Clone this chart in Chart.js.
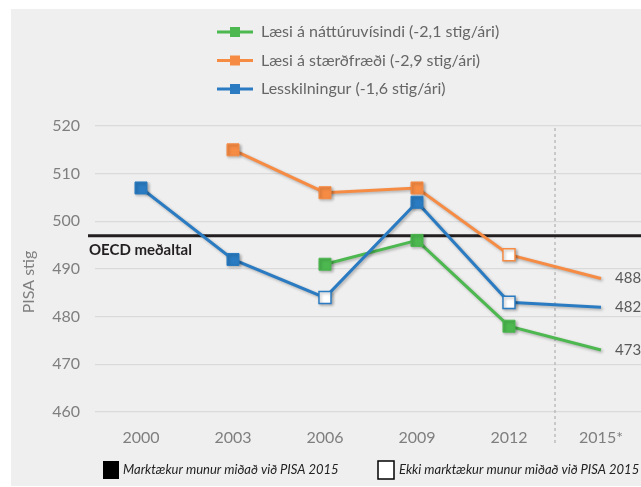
<!DOCTYPE html>
<html lang="is">
<head>
<meta charset="utf-8">
<title>PISA stig</title>
<script src="https://cdn.jsdelivr.net/npm/chart.js@4/dist/chart.umd.min.js"></script>
<style>
    html, body { margin: 0; padding: 0; background: #ffffff; overflow: hidden; }
    #bakgrunnur { position: absolute; left: 11px; top: 9px; width: 630px; height: 477px; background: #efefef; }
    #pisaChart { position: absolute; left: 0; top: 0; }
</style>
</head>
<body>
<div id="bakgrunnur"></div>
<canvas id="pisaChart" width="660" height="487"></canvas>
<script>
// Gögn lesin af myndinni
const artal = ['2000', '2003', '2006', '2009', '2012', '2015*'];
const natturuvisindi = [null, null, 491, 496, 478, 473];
const staerdfraedi = [null, 515, 506, 507, 493, 488];
const lesskilningur = [507, 492, 484, 504, 483, 482];

// true = marktækur munur (fyllt), false = ekki marktækur (hvítt), null = enginn punktur
const natturuvisindiMarktaekt = [null, null, true, true, true, null];
const staerdfraediMarktaekt = [null, true, true, true, false, null];
const lesskilningurMarktaekt = [true, true, false, true, false, null];

const heiti = [
    'Læsi á náttúruvísindi (-2,1 stig/ári)',
    'Læsi á stærðfræði (-2,9 stig/ári)',
    'Lesskilningur (-1,6 stig/ári)'
];
const litir = ['#4cb84f', '#f68b44', '#2a7bc1'];

const oecdMedaltal = 497;
const oecdTexti = 'OECD meðaltal';
const yTikk = [460, 470, 480, 490, 500, 510, 520];
const askiTitill = 'PISA stig';
const skyringar = ['Marktækur munur miðað við PISA 2015', 'Ekki marktækur munur miðað við PISA 2015'];

const FONT = "Lato, 'Open Sans', sans-serif";

function merki(litur, marktaekt) {
    return {
        pointStyle: 'rect',
        pointRadius: marktaekt.map(m => m === null ? 0 : 8.5),
        pointHoverRadius: marktaekt.map(m => m === null ? 0 : 8.5),
        pointBackgroundColor: marktaekt.map(m => m === false ? '#ffffff' : litur),
        pointBorderColor: litur,
        pointBorderWidth: marktaekt.map(m => m === false ? 1.5 : 1)
    };
}

function rod(i, gogn, marktaekt, order) {
    return Object.assign({
        label: heiti[i],
        data: gogn,
        borderColor: litir[i],
        backgroundColor: litir[i],
        borderWidth: 3,
        tension: 0,
        order: order
    }, merki(litir[i], marktaekt));
}

// Skuggi á línum
const skuggi = {
    id: 'skuggi',
    beforeDatasetDraw(chart) {
        const ctx = chart.ctx;
        ctx.save();
        ctx.shadowColor = 'rgba(0,0,0,0.28)';
        ctx.shadowBlur = 3;
        ctx.shadowOffsetX = 1.5;
        ctx.shadowOffsetY = 1.5;
    },
    afterDatasetDraw(chart) {
        chart.ctx.restore();
    }
};

// OECD lína og brotin lína milli 2012 og 2015
const bakgrunnsLinur = {
    id: 'bakgrunnsLinur',
    beforeDatasetsDraw(chart) {
        const ctx = chart.ctx;
        const x = chart.scales.x;
        const y = chart.scales.y;
        const area = chart.chartArea;

        const xBrot = (x.getPixelForValue(4) + x.getPixelForValue(5)) / 2;
        ctx.save();
        ctx.strokeStyle = '#bdbdbd';
        ctx.lineWidth = 1.5;
        ctx.setLineDash([3, 3]);
        ctx.beginPath();
        ctx.moveTo(xBrot, area.top + 2);
        ctx.lineTo(xBrot, area.bottom + 33);
        ctx.stroke();
        ctx.restore();

        const yOecd = y.getPixelForValue(oecdMedaltal);
        ctx.save();
        ctx.strokeStyle = '#231f20';
        ctx.lineWidth = 3;
        ctx.beginPath();
        ctx.moveTo(88, yOecd);
        ctx.lineTo(chart.width, yOecd);
        ctx.stroke();
        ctx.fillStyle = '#231f20';
        ctx.font = 'bold 15px ' + FONT;
        ctx.textAlign = 'left';
        ctx.textBaseline = 'alphabetic';
        ctx.fillText(oecdTexti, 89, yOecd + 19);
        ctx.restore();
    }
};

// Gildi við síðasta punkt, ásheiti og skýringar efst og neðst
const merkingar = {
    id: 'merkingar',
    afterDraw(chart) {
        const ctx = chart.ctx;
        ctx.save();

        // gildi við 2015
        ctx.font = '15px ' + FONT;
        ctx.fillStyle = '#595959';
        ctx.textAlign = 'left';
        ctx.textBaseline = 'middle';
        chart.data.datasets.forEach((ds, i) => {
            const meta = chart.getDatasetMeta(i);
            const last = meta.data[meta.data.length - 1];
            ctx.fillText(ds.data[ds.data.length - 1], last.x + 14, last.y);
        });

        // heiti y-ás (aðeins neðar en miðja ássins)
        ctx.save();
        ctx.translate(29, (chart.chartArea.top + chart.chartArea.bottom) / 2 + 13);
        ctx.rotate(-Math.PI / 2);
        ctx.textAlign = 'center';
        ctx.fillStyle = '#7f7f7f';
        ctx.font = '16px ' + FONT;
        ctx.fillText(askiTitill, 0, 0);
        ctx.restore();

        // skýringar efst
        ctx.textAlign = 'left';
        heiti.forEach((texti, i) => {
            const yy = 32 + i * 28.5;
            ctx.strokeStyle = litir[i];
            ctx.lineWidth = 3;
            ctx.beginPath();
            ctx.moveTo(217, yy);
            ctx.lineTo(253, yy);
            ctx.stroke();
            ctx.fillStyle = litir[i];
            ctx.fillRect(230, yy - 5, 10, 10);
            ctx.fillStyle = '#666666';
            ctx.font = '16px ' + FONT;
            ctx.fillText(texti, 261, yy);
        });

        // skýringar neðst
        ctx.fillStyle = '#000000';
        ctx.fillRect(103, 461, 16, 18);
        ctx.fillStyle = '#ffffff';
        ctx.fillRect(378, 461, 16, 18);
        ctx.strokeStyle = '#000000';
        ctx.lineWidth = 1.5;
        ctx.strokeRect(378, 461, 16, 18);
        ctx.fillStyle = '#222222';
        ctx.font = 'italic 13px ' + FONT;
        ctx.fillText(skyringar[0], 123, 470);
        ctx.fillText(skyringar[1], 399, 470);

        ctx.restore();
    }
};

new Chart(document.getElementById('pisaChart'), {
    type: 'line',
    data: {
        labels: artal,
        datasets: [
            rod(0, natturuvisindi, natturuvisindiMarktaekt, 2),
            rod(1, staerdfraedi, staerdfraediMarktaekt, 1),
            rod(2, lesskilningur, lesskilningurMarktaekt, 0)
        ]
    },
    options: {
        responsive: false,
        animation: false,
        layout: { padding: { top: 126, right: 13, bottom: 0, left: 0 } },
        plugins: {
            legend: { display: false },
            tooltip: { enabled: false }
        },
        scales: {
            x: {
                offset: true,
                grid: { display: false },
                border: { display: false },
                ticks: {
                    color: '#7f7f7f',
                    font: { family: FONT, size: 16 },
                    padding: 8,
                    maxRotation: 0
                },
                afterFit(scale) { scale.height = 75; }
            },
            y: {
                min: 460,
                max: 520,
                afterBuildTicks(scale) { scale.ticks = yTikk.map(v => ({ value: v })); },
                grid: { color: '#dadada', lineWidth: 1.2, drawTicks: false },
                border: { display: false },
                ticks: {
                    color: '#7f7f7f',
                    font: { family: FONT, size: 16 },
                    padding: 15
                },
                afterFit(scale) { scale.width = 95; }
            }
        }
    },
    plugins: [skuggi, bakgrunnsLinur, merkingar]
});
</script>
</body>
</html>
